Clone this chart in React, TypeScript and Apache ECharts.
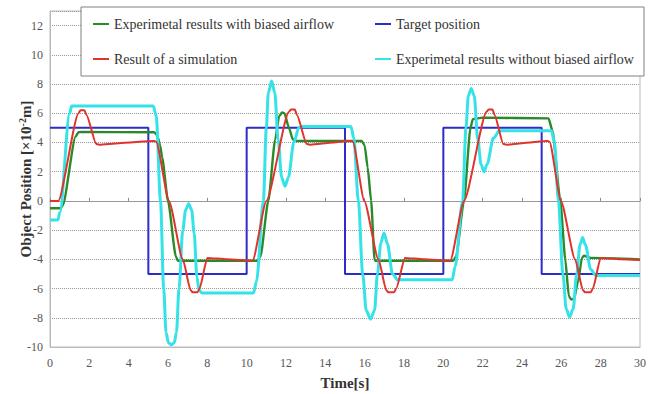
import React, { useEffect, useRef } from "react";
import * as echarts from "echarts";

const xTicks = { min: 0, max: 30, interval: 2 };
const yTicks = { min: -10, max: 13, interval: 2 };

const seriesNames = [
  "Experimetal results with biased airflow",
  "Target position",
  "Result of a simulation",
  "Experimetal results without biased airflow",
];

const targetData: number[][] = [
  [0, 5], [5, 5], [5, -5], [10, -5], [10, 5], [15, 5], [15, -5], [20, -5],
  [20, 5], [25, 5], [25, -5], [30, -5],
];

const simulationData: number[][] = [
  [0, 0], [0.42, 0], [1.45, 6.0], [1.55, 6.2], [1.75, 6.2], [1.85, 5.9], [2.35, 3.9], [2.5, 3.85], [3.5, 3.95], [5.3, 4.1],
  [5.4, 4.05], [6.05, 0], [6.75, -4], [7.15, -6.1], [7.25, -6.25], [7.5, -6.25], [7.6, -6.0], [8.0, -3.9], [9.0, -4.0], [10.3, -4.1],
  [11.0, 0], [12.15, 6.1], [12.25, 6.25], [12.45, 6.25], [12.55, 5.9], [13.05, 3.9], [13.2, 3.85], [14, 3.95], [15.3, 4.1],
  [15.4, 4.05], [15.98, 0], [16.7, -4], [17.1, -6.1], [17.2, -6.25], [17.5, -6.25], [17.6, -6.0], [18.05, -3.9], [19, -4.0], [20.35, -4.1],
  [21.05, 0], [22.2, 6.1], [22.3, 6.25], [22.5, 6.25], [22.6, 5.9], [23.05, 3.9], [23.2, 3.85], [24, 3.95], [25.3, 4.1],
  [25.4, 4.05], [25.98, 0], [26.7, -4], [27.1, -6.1], [27.2, -6.25], [27.5, -6.25], [27.6, -6.0], [28.0, -3.9], [29, -4.0], [30, -4.05],
];

const withAirflowData: number[][] = [
  [0, -0.5], [0.55, -0.5], [0.65, -0.3], [1.3, 4.4], [1.45, 4.7], [1.6, 4.72], [5.3, 4.7], [5.45, 4.5], [5.6, 3.8], [5.7, 3.0],
  [6.0, 0], [6.4, -3.8], [6.5, -4.1], [10.55, -4.1], [10.7, -3.8], [11.1, 0], [11.45, 4.2], [11.65, 5.8], [11.8, 6.05], [11.92, 6.0],
  [12.15, 5.0], [12.35, 4.2], [12.5, 4.1], [15.85, 4.1], [16.0, 3.8], [16.15, 2.3], [16.33, 0], [16.5, -4.0], [16.55, -4.1],
  [20.5, -4.1], [20.65, -3.8], [21.05, 0], [21.38, 5.0], [21.5, 5.6], [22.0, 5.7], [25.35, 5.65], [25.55, 4.8], [25.95, 0],
  [26.2, -4], [26.38, -6.5], [26.5, -6.75], [26.65, -6.7], [26.85, -5.5], [27.05, -3.9], [27.15, -3.75], [27.5, -3.9], [30, -4.0],
];

const withoutAirflowData: number[][] = [
  [0, -1.3], [0.4, -1.3], [0.5, -0.8], [1.0, 6.0], [1.1, 6.5], [5.25, 6.5], [5.4, 5.8], [5.62, 0], [5.78, -6], [5.9, -9.0],
  [6.02, -9.7], [6.17, -9.85], [6.32, -9.7], [6.43, -9.0], [6.56, -6], [6.75, -2], [6.9, -0.6], [7.05, -0.2], [7.2, -0.6],
  [7.33, -2.2], [7.47, -5.2], [7.58, -6.1], [7.72, -6.3], [10.35, -6.3], [10.5, -5.5], [10.85, 0], [11.0, 5], [11.1, 7.4],
  [11.27, 8.2], [11.43, 7.4], [11.6, 4.2], [11.78, 1.6], [11.95, 1.0], [12.12, 1.6], [12.4, 4], [12.65, 5.0], [12.8, 5.1],
  [15.3, 5.1], [15.45, 4.3], [15.68, 0], [15.9, -5], [16.08, -7.5], [16.3, -8.1], [16.5, -7.5], [16.65, -5], [16.82, -2.9],
  [16.98, -2.2], [17.15, -2.9], [17.42, -5], [17.68, -5.4], [20.45, -5.4], [20.6, -4.5], [20.98, 0], [21.15, 5], [21.27, 7.2],
  [21.42, 7.7], [21.57, 7.2], [21.75, 4.2], [21.92, 2.5], [22.07, 2.0], [22.22, 2.5], [22.55, 4.3], [22.85, 4.8], [25.5, 4.8],
  [25.65, 4.0], [25.85, 0], [26.08, -5], [26.25, -7.4], [26.42, -7.95], [26.6, -7.4], [26.78, -5], [26.95, -3], [27.08, -2.5],
  [27.22, -3], [27.5, -4.7], [27.75, -5.1], [30, -5.1],
];

const colors = {
  green: "#2a8a2a",
  blue: "#2c2cc8",
  red: "#e0332c",
  cyan: "#35e2e8",
};

const FONT = "Liberation Serif";

export default function App() {
  const ref = useRef<HTMLDivElement>(null);
  useEffect(() => {
    if (!ref.current) return;
    const chart = echarts.init(ref.current, null, { renderer: "svg" });
    const legendText = { fontFamily: FONT, fontSize: 14, color: "#333" };
    const mkLegend = (name: string, left: number, top: number) => ({
      data: [{ name, icon: "rect" }],
      left,
      top,
      orient: "horizontal",
      itemWidth: 16,
      itemHeight: 2,
      textStyle: legendText,
      padding: 0,
      z: 10,
      selectedMode: false,
    });
    chart.setOption({
      animation: false,
      backgroundColor: "#fff",
      textStyle: { fontFamily: FONT },
      grid: {
        left: 50,
        right: 16,
        top: 11,
        bottom: 47,
        show: true,
        borderColor: "#bbb",
        borderWidth: 1,
        containLabel: false,
        outerBoundsMode: "none",
      },
      legend: [
        mkLegend(seriesNames[0], 93, 17),
        mkLegend(seriesNames[2], 93, 52),
        mkLegend(seriesNames[1], 375, 17),
        mkLegend(seriesNames[3], 375, 52),
      ],
      graphic: [
        {
          type: "rect",
          shape: { x: 81, y: 7, width: 563, height: 69 },
          style: { fill: "#fff", stroke: "#808080", lineWidth: 1 },
          z: 5,
        },
      ],
      xAxis: [
        {
          type: "value",
          min: xTicks.min,
          max: xTicks.max,
          interval: xTicks.interval,
          position: "bottom",
          name: "Time[s]",
          nameLocation: "middle",
          nameGap: 28,
          nameMoveOverlap: false,
          nameTextStyle: { fontFamily: FONT, fontSize: 15, fontWeight: "bold", color: "#333" },
          axisLine: { onZero: false, lineStyle: { color: "#bbb" } },
          axisTick: { show: false },
          axisLabel: { fontFamily: FONT, fontSize: 12, color: "#555", margin: 10 },
          splitLine: { show: false },
        },
        {
          type: "value",
          min: xTicks.min,
          max: xTicks.max,
          interval: xTicks.interval,
          position: "bottom",
          axisLine: { show: true, onZero: true, onZeroAxisIndex: 0, lineStyle: { color: "#999", width: 1 } },
          axisTick: { show: true, inside: true, length: 3, lineStyle: { color: "#888" } },
          axisLabel: { show: false },
          splitLine: { show: false },
        },
      ],
      yAxis: {
        type: "value",
        min: yTicks.min,
        max: yTicks.max,
        interval: yTicks.interval,
        name: "Object Position [×10{sup|-2}m]",
        nameLocation: "middle",
        nameGap: 16,
        nameMoveOverlap: false,
        nameTextStyle: {
          fontFamily: FONT,
          fontSize: 15,
          fontWeight: "bold",
          color: "#333",
          rich: {
            sup: { fontFamily: FONT, fontSize: 10, fontWeight: "bold", color: "#333", verticalAlign: "bottom", padding: [0, 0, 7, 0] },
          },
        },
        axisLine: { show: true, lineStyle: { color: "#bbb" } },
        axisTick: { show: false },
        axisLabel: { fontFamily: FONT, fontSize: 12, color: "#555", margin: 7, showMaxLabel: false },
        splitLine: { show: true, lineStyle: { color: "#999", type: "dotted", width: 1 } },
      },
      series: [
        {
          name: seriesNames[1],
          type: "line",
          data: targetData,
          symbol: "none",
          lineStyle: { color: colors.blue, width: 2 },
          itemStyle: { color: colors.blue },
          z: 2,
        },
        {
          name: seriesNames[0],
          type: "line",
          data: withAirflowData,
          symbol: "none",
          smooth: 0.2,
          smoothMonotone: "x",
          lineStyle: { color: colors.green, width: 2.4 },
          itemStyle: { color: colors.green },
          z: 3,
        },
        {
          name: seriesNames[2],
          type: "line",
          data: simulationData,
          symbol: "none",
          smooth: 0.2,
          smoothMonotone: "x",
          lineStyle: { color: colors.red, width: 2 },
          itemStyle: { color: colors.red },
          z: 4,
        },
        {
          name: seriesNames[3],
          type: "line",
          data: withoutAirflowData,
          symbol: "none",
          smooth: 0.3,
          smoothMonotone: "x",
          lineStyle: { color: colors.cyan, width: 3 },
          itemStyle: { color: colors.cyan },
          z: 3,
        },
      ],
    });
    return () => chart.dispose();
  }, []);
  return <div ref={ref} style={{ width: 656, height: 394, position: "absolute", left: 0, top: 0 }} />;
}
